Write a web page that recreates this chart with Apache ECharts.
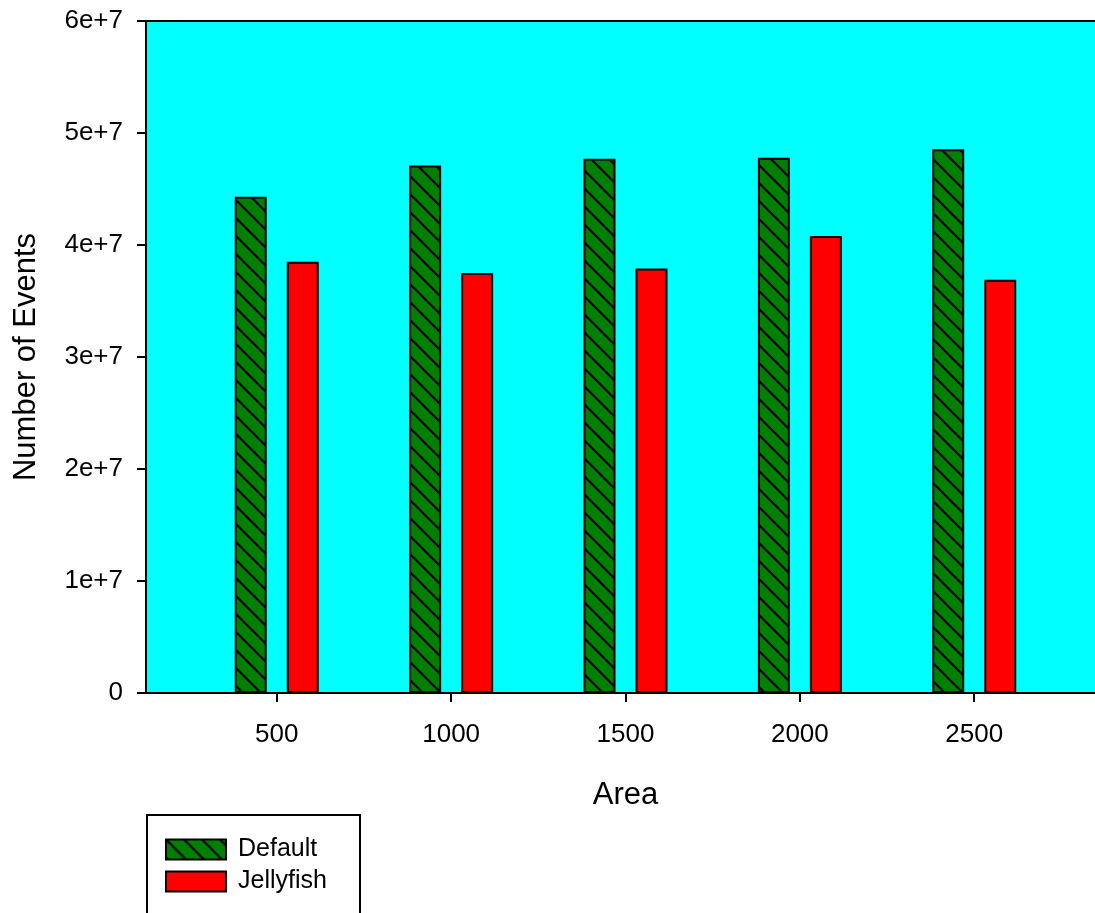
<!DOCTYPE html>
<html>
<head>
<meta charset="utf-8">
<script src="https://cdn.jsdelivr.net/npm/echarts@6/dist/echarts.min.js"></script>
<style>
html,body{margin:0;padding:0;background:#fff;}
#chart{width:1095px;height:913px;}
</style>
</head>
<body>
<div id="chart"></div>
<script>
const areas = [500, 1000, 1500, 2000, 2500];
const defaultEvents = [4.43e7, 4.71e7, 4.77e7, 4.78e7, 4.855e7];
const jellyfishEvents = [3.85e7, 3.75e7, 3.79e7, 4.08e7, 3.69e7];
const seriesNames = ['Default', 'Jellyfish'];

function hatch() {
  const s = 18;
  const c = document.createElement('canvas');
  c.width = s; c.height = s;
  const g = c.getContext('2d');
  g.fillStyle = '#008000';
  g.fillRect(0, 0, s, s);
  g.strokeStyle = '#000';
  g.lineWidth = 2.2;
  for (const o of [-s, 0, s]) {
    g.beginPath();
    g.moveTo(o - 2, -2);
    g.lineTo(o + s + 2, s + 2);
    g.stroke();
  }
  return c;
}

const chart = echarts.init(document.getElementById('chart'), null, {renderer: 'canvas'});
const font = 'Liberation Sans, Arial, sans-serif';
chart.setOption({
  animation: false,
  textStyle: {fontFamily: font},
  grid: {
    left: 146, right: -10, top: 21, bottom: 220,
    show: true, backgroundColor: '#00FFFF', borderColor: '#000', borderWidth: 2,
    containLabel: false, outerBoundsMode: 'none'
  },
  graphic: [{
    type: 'rect', left: 146, top: 814, z: 0,
    shape: {width: 213, height: 200},
    style: {fill: '#fff', stroke: '#000', lineWidth: 2}
  }],
  legend: {
    orient: 'vertical', left: 146, top: 814,
    padding: [23, 0, 0, 19], z: 10,
    itemWidth: 60, itemHeight: 20, itemGap: 7,
    icon: 'rect',
    textStyle: {fontSize: 25, color: '#000', fontFamily: font, padding: [0, 0, 0, 7]},
    data: seriesNames
  },
  xAxis: {
    type: 'value', min: 125, max: 2875,
    name: 'Area', nameLocation: 'middle', nameGap: 87,
    nameTextStyle: {fontSize: 31, color: '#000', fontFamily: font},
    axisLine: {show: true, lineStyle: {color: '#000', width: 2}},
    axisTick: {show: true, length: 9, lineStyle: {color: '#000', width: 2}, customValues: areas},
    axisLabel: {fontSize: 26, color: '#000', margin: 29, fontFamily: font, customValues: areas,
      formatter: v => String(v)},
    splitLine: {show: false}
  },
  yAxis: {
    type: 'value', min: 0, max: 6e7, interval: 1e7,
    name: 'Number of Events', nameLocation: 'middle', nameGap: 104, nameRotate: 90,
    nameTextStyle: {fontSize: 31, color: '#000', fontFamily: font},
    axisLine: {show: true, lineStyle: {color: '#000', width: 2}},
    axisTick: {show: true, length: 9, lineStyle: {color: '#000', width: 2}},
    axisLabel: {fontSize: 26, color: '#000', margin: 23, fontFamily: font,
      formatter: v => v === 0 ? '0' : (v / 1e7) + 'e+7'},
    splitLine: {show: false}
  },
  series: [
    {
      name: seriesNames[0], type: 'bar', barWidth: 32, barGap: '62.5%',
      itemStyle: {color: {image: hatch(), repeat: 'repeat'}, borderColor: '#000', borderWidth: 2},
      data: areas.map((a, i) => [a, defaultEvents[i]])
    },
    {
      name: seriesNames[1], type: 'bar', barWidth: 32, barGap: '62.5%',
      itemStyle: {color: '#FF0000', borderColor: '#000', borderWidth: 2},
      data: areas.map((a, i) => [a, jellyfishEvents[i]])
    }
  ]
});
</script>
</body>
</html>
